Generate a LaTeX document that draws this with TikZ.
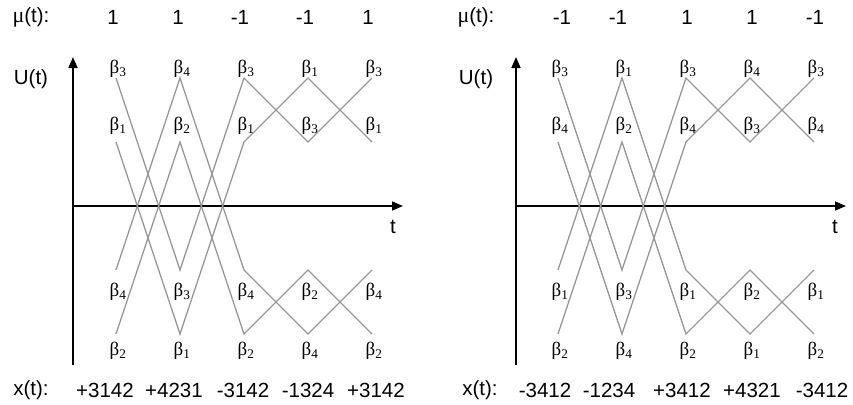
\documentclass[tikz,border=0pt]{standalone}
\usepackage{fontspec}
\setmainfont{Liberation Sans}
\newfontfamily\grk{Liberation Serif}
\usetikzlibrary{arrows.meta}

\begin{document}
\begin{tikzpicture}[x=1pt, y=-1pt, font=\fontsize{20.5}{24}\selectfont,
  axis/.style={line width=1.6pt, -{Triangle[length=11pt, width=9pt]}},
  traj/.style={draw=black!40, line width=1.3pt},
  blab/.style={inner sep=0pt, font=\grk\fontsize{19}{19}\selectfont},
  txt/.style={inner sep=0pt}]
\useasboundingbox (0,0) rectangle (853,404);
% end points of the trajectories, L = left panel, R = right panel
\foreach \p/\dx in {L/0, R/442}
  \foreach \c/\x in {1/116, 2/180, 3/244, 4/308, 5/372}
    \foreach \r/\y in {1/78, 2/142, 3/270, 4/334}
      \coordinate (\p-\c-\r) at (\x+\dx,\y);
% axes
\foreach \p/\dx in {L/0, R/443} {
  \coordinate (\p-o) at (73+\dx,206);
  \coordinate (\p-top) at (73+\dx,57);
  \coordinate (\p-bot) at (73+\dx,365);
  \coordinate (\p-end) at (403+\dx,206);
  \draw[axis] (\p-bot) -- (\p-top);
  \draw[axis] (\p-o) -- (\p-end);
}
% trajectories
\foreach \p in {L, R} {
  \draw[traj] (\p-1-1) -- (\p-2-3) -- (\p-3-1) -- (\p-4-2) -- (\p-5-1);
  \draw[traj] (\p-1-2) -- (\p-2-4) -- (\p-3-2) -- (\p-4-1) -- (\p-5-2);
  \draw[traj] (\p-1-3) -- (\p-2-1) -- (\p-3-3) -- (\p-4-4) -- (\p-5-3);
  \draw[traj] (\p-1-4) -- (\p-2-2) -- (\p-3-4) -- (\p-4-3) -- (\p-5-4);
}
% beta labels
\foreach \c/\x/\a/\b/\e/\f in {1/116/3/1/4/2, 2/180/4/2/3/1, 3/244/3/1/4/2, 4/308/1/3/2/4, 5/372/3/1/4/2} {
  \node[blab] (Lb-\c-1) at (\x+2,69) {β\textsubscript{\a}};
  \node[blab] (Lb-\c-2) at (\x+2,126) {β\textsubscript{\b}};
  \node[blab] (Lb-\c-3) at (\x+2,292) {β\textsubscript{\e}};
  \node[blab] (Lb-\c-4) at (\x+2,351) {β\textsubscript{\f}};
}
\foreach \c/\x/\a/\b/\e/\f in {1/558/3/4/1/2, 2/622/1/2/3/4, 3/686/3/4/1/2, 4/750/4/3/2/1, 5/814/3/4/1/2} {
  \node[blab] (Rb-\c-1) at (\x+2,69) {β\textsubscript{\a}};
  \node[blab] (Rb-\c-2) at (\x+2,126) {β\textsubscript{\b}};
  \node[blab] (Rb-\c-3) at (\x+2,292) {β\textsubscript{\e}};
  \node[blab] (Rb-\c-4) at (\x+2,351) {β\textsubscript{\f}};
}
% axis names
\node[txt] (L-u) at (31,79) {U(t)};
\node[txt] (R-u) at (476,79) {U(t)};
\node[txt] (L-t) at (393,227) {t};
\node[txt] (R-t) at (835,227) {t};
% mu(t) row
\node[txt] (L-mu) at (31,17) {{\grk\fontsize{22}{24}\selectfont μ}(t):};
\node[txt] (R-mu) at (476,17) {{\grk\fontsize{22}{24}\selectfont μ}(t):};
\foreach \i/\x/\v in {1/113/1, 2/178/1, 3/240/-1, 4/305/-1, 5/368/1}
  \node[txt] (L-mu-\i) at (\x,17) {\v};
\foreach \i/\x/\v in {1/562/-1, 2/618/-1, 3/687/1, 4/752/1, 5/815/-1}
  \node[txt] (R-mu-\i) at (\x,17) {\v};
% x(t) row
\node[txt] (L-xt) at (31,390) {x(t):};
\node[txt] (R-xt) at (480,390) {x(t):};
\foreach \i/\x/\v in {1/105/+3142, 2/174/+4231, 3/243/-3142, 4/308/-1324, 5/376/+3142}
  \node[txt] (L-x-\i) at (\x,390) {\v};
\foreach \i/\x/\v in {1/545/-3412, 2/609/-1234, 3/682/+3412, 4/752/+4321, 5/822/-3412}
  \node[txt] (R-x-\i) at (\x,390) {\v};
\end{tikzpicture}
\end{document}
